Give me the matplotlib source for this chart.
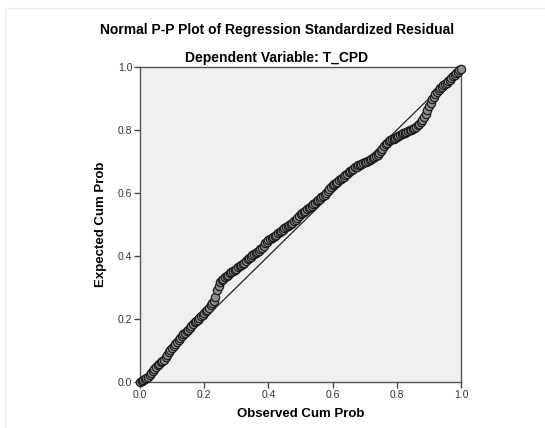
import numpy as np
import matplotlib
matplotlib.use("Agg")
import matplotlib.pyplot as plt
from matplotlib.patches import Rectangle

plt.rcParams['font.family'] = ['Liberation Sans', 'DejaVu Sans']

# observed vs expected cumulative probabilities
observed = [0.000, 0.005, 0.010, 0.015, 0.020, 0.025, 0.030, 0.035, 0.040, 0.045,
            0.050, 0.055, 0.060, 0.065, 0.070, 0.075, 0.080, 0.085, 0.090, 0.095,
            0.100, 0.105, 0.110, 0.115, 0.120, 0.125, 0.130, 0.135, 0.140, 0.145,
            0.150, 0.155, 0.160, 0.165, 0.170, 0.175, 0.180, 0.185, 0.190, 0.195,
            0.200, 0.205, 0.210, 0.215, 0.220, 0.225, 0.230, 0.235, 0.240, 0.245,
            0.250, 0.255, 0.260, 0.265, 0.270, 0.275, 0.280, 0.285, 0.290, 0.295,
            0.300, 0.305, 0.310, 0.315, 0.320, 0.325, 0.330, 0.335, 0.340, 0.345,
            0.350, 0.355, 0.360, 0.365, 0.370, 0.375, 0.380, 0.385, 0.390, 0.395,
            0.400, 0.405, 0.410, 0.415, 0.420, 0.425, 0.430, 0.435, 0.440, 0.445,
            0.450, 0.455, 0.460, 0.465, 0.470, 0.475, 0.480, 0.485, 0.490, 0.495,
            0.500, 0.505, 0.510, 0.515, 0.520, 0.525, 0.530, 0.535, 0.540, 0.545,
            0.550, 0.555, 0.560, 0.565, 0.570, 0.575, 0.580, 0.585, 0.590, 0.595,
            0.600, 0.605, 0.610, 0.615, 0.620, 0.625, 0.630, 0.635, 0.640, 0.645,
            0.650, 0.655, 0.660, 0.665, 0.670, 0.675, 0.680, 0.685, 0.690, 0.695,
            0.700, 0.705, 0.710, 0.715, 0.720, 0.725, 0.730, 0.735, 0.740, 0.745,
            0.750, 0.755, 0.760, 0.765, 0.770, 0.775, 0.780, 0.785, 0.790, 0.795,
            0.800, 0.805, 0.810, 0.815, 0.820, 0.825, 0.830, 0.835, 0.840, 0.845,
            0.850, 0.855, 0.860, 0.865, 0.870, 0.875, 0.880, 0.885, 0.890, 0.895,
            0.900, 0.905, 0.910, 0.915, 0.920, 0.925, 0.930, 0.935, 0.940, 0.945,
            0.950, 0.955, 0.960, 0.965, 0.970, 0.975, 0.980, 0.985, 0.990, 0.995,
            1.000]
expected = [0.000, 0.003, 0.006, 0.009, 0.012, 0.017, 0.022, 0.028, 0.035, 0.041,
            0.047, 0.053, 0.058, 0.062, 0.066, 0.071, 0.078, 0.086, 0.094, 0.101,
            0.108, 0.114, 0.120, 0.127, 0.134, 0.141, 0.147, 0.152, 0.156, 0.161,
            0.166, 0.172, 0.178, 0.184, 0.190, 0.194, 0.198, 0.203, 0.208, 0.213,
            0.218, 0.224, 0.230, 0.236, 0.243, 0.250, 0.258, 0.270, 0.292, 0.305,
            0.318, 0.323, 0.328, 0.332, 0.336, 0.340, 0.345, 0.349, 0.352, 0.356,
            0.360, 0.364, 0.368, 0.371, 0.375, 0.379, 0.384, 0.389, 0.394, 0.398,
            0.402, 0.405, 0.408, 0.412, 0.416, 0.421, 0.426, 0.433, 0.440, 0.446,
            0.452, 0.455, 0.458, 0.461, 0.464, 0.468, 0.472, 0.476, 0.480, 0.484,
            0.488, 0.491, 0.495, 0.499, 0.503, 0.506, 0.510, 0.515, 0.520, 0.526,
            0.532, 0.536, 0.540, 0.544, 0.548, 0.552, 0.556, 0.560, 0.564, 0.569,
            0.574, 0.578, 0.582, 0.586, 0.591, 0.595, 0.600, 0.606, 0.612, 0.618,
            0.624, 0.628, 0.632, 0.636, 0.640, 0.644, 0.648, 0.652, 0.657, 0.661,
            0.666, 0.670, 0.674, 0.677, 0.681, 0.684, 0.688, 0.690, 0.693, 0.695,
            0.697, 0.700, 0.702, 0.704, 0.707, 0.710, 0.713, 0.717, 0.722, 0.728,
            0.734, 0.741, 0.748, 0.754, 0.760, 0.764, 0.768, 0.770, 0.772, 0.775,
            0.777, 0.780, 0.783, 0.786, 0.789, 0.791, 0.794, 0.796, 0.799, 0.801,
            0.804, 0.807, 0.810, 0.815, 0.820, 0.826, 0.832, 0.840, 0.850, 0.862,
            0.875, 0.886, 0.897, 0.906, 0.915, 0.922, 0.928, 0.933, 0.938, 0.942,
            0.946, 0.950, 0.955, 0.960, 0.965, 0.970, 0.975, 0.980, 0.985, 0.990,
            0.995]
ticks = [0.0, 0.2, 0.4, 0.6, 0.8, 1.0]

fig = plt.figure(figsize=(5.45, 4.28), dpi=100)
fig.patches.append(Rectangle((5 / 545, -0.1), 1.2, 1 - 8 / 428 + 0.1,
                             transform=fig.transFigure, fill=False,
                             edgecolor='#ececec', linewidth=0.8))

ax = fig.add_axes([140 / 545, 46 / 428, 321 / 545, 315 / 428])
ax.set_facecolor('#f0f0f0')

ax.plot([0, 1], [0, 1], color='#222222', linewidth=0.9, zorder=2)
ax.plot(observed, expected, linestyle='none', marker='o', markersize=6,
        markerfacecolor='#909090', markeredgecolor='#1c1c1c',
        markeredgewidth=0.9, zorder=3, clip_on=False)

ax.set_xlim(0, 1)
ax.set_ylim(0, 1)
ax.set_xticks(ticks)
ax.set_yticks(ticks)
ax.set_xticklabels([f'{t:.1f}' for t in ticks])
ax.set_yticklabels([f'{t:.1f}' for t in ticks])
ax.tick_params(direction='out', length=4, width=1, color='#444444',
               labelsize=7.5, labelcolor='#333333', pad=1.5)
for s in ax.spines.values():
    s.set_color('#555555')
    s.set_linewidth(1.0)

ax.set_xlabel('Observed Cum Prob', fontsize=9.5, fontweight='bold', labelpad=6)
ax.set_ylabel('Expected Cum Prob', fontsize=9.5, fontweight='bold', labelpad=8)

fig.text(277.5 / 545, 1 - 30 / 428, 'Normal P-P Plot of Regression Standardized Residual',
         ha='center', va='center', fontsize=10, fontweight='bold')
fig.text(276.5 / 545, 1 - 58 / 428, 'Dependent Variable: T_CPD',
         ha='center', va='center', fontsize=10, fontweight='bold')

fig.savefig('out.png', dpi=100)
